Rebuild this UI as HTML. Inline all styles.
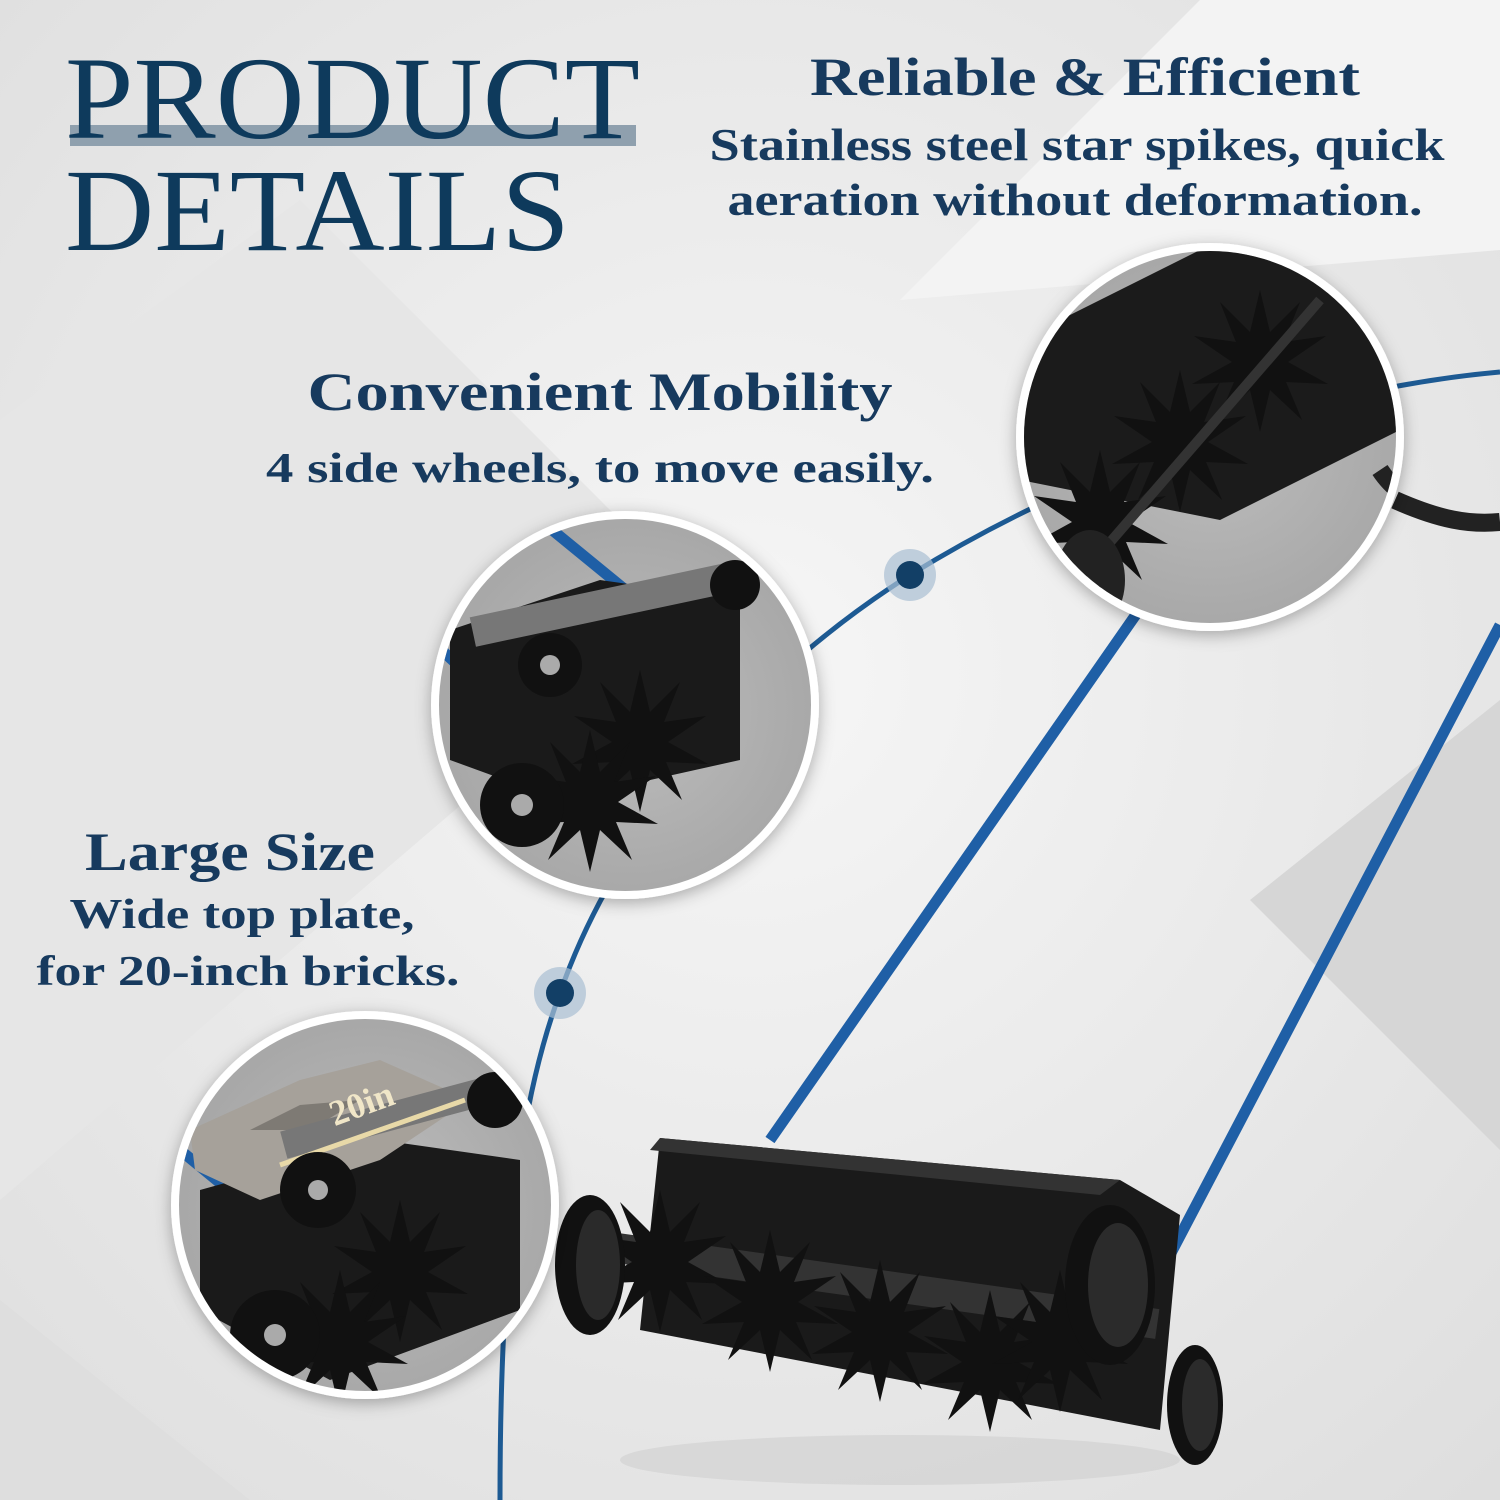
<!DOCTYPE html>
<html><head><meta charset="utf-8"><style>
html,body{margin:0;padding:0;background:#eeeeee}
svg{display:block}
</style></head><body>
<svg width="1500" height="1500" viewBox="0 0 1500 1500" xmlns="http://www.w3.org/2000/svg">
<defs>
<radialGradient id="bg" cx="0.5" cy="0.45" r="0.8">
<stop offset="0" stop-color="#f6f6f6"/><stop offset="1" stop-color="#dcdcdc"/></radialGradient>
<radialGradient id="ph" cx="0.5" cy="0.5" r="0.6">
<stop offset="0" stop-color="#bdbdbd"/><stop offset="1" stop-color="#a2a2a2"/></radialGradient>
<clipPath id="c1"><circle cx="1210" cy="437" r="186"/></clipPath>
<clipPath id="c2"><circle cx="625" cy="705" r="186"/></clipPath>
<clipPath id="c3"><circle cx="365" cy="1205" r="186"/></clipPath>
<filter id="sh" x="-20%" y="-20%" width="140%" height="140%"><feDropShadow dx="0" dy="4" stdDeviation="8" flood-color="#000" flood-opacity="0.3"/></filter>
<g id="star">
<polygon fill="#111" points="0,-70 10,-28 40,-58 24,-18 66,-24 28,2 68,24 26,22 42,60 10,30 0,72 -10,30 -42,60 -26,22 -68,24 -28,2 -66,-24 -24,-18 -40,-58 -10,-28"/>
</g>
</defs>
<rect width="1500" height="1500" fill="url(#bg)"/>
<polygon points="0,420 300,200 700,600 0,1200" fill="#e6e6e6"/>
<polygon points="1250,900 1500,700 1500,1150" fill="#d6d6d6"/>
<polygon points="900,300 1200,0 1500,0 1500,250" fill="#f3f3f3"/>
<polygon points="0,1300 250,1500 0,1500" fill="#dedede"/>

<!-- arc -->
<path d="M1500,372 C1300,390 1080,470 910,575 C760,670 620,820 560,993 C520,1100 500,1250 500,1500" fill="none" stroke="#1d5a93" stroke-width="5"/>
<circle cx="910" cy="575" r="26" fill="#a9bfd3" opacity="0.7"/><circle cx="910" cy="575" r="14" fill="#123f66"/>
<circle cx="560" cy="993" r="26" fill="#a9bfd3" opacity="0.7"/><circle cx="560" cy="993" r="14" fill="#123f66"/>

<!-- handles -->
<line x1="1160" y1="580" x2="770" y2="1140" stroke="#1f5fa6" stroke-width="11"/>
<line x1="1500" y1="625" x2="1115" y2="1360" stroke="#1f5fa6" stroke-width="11"/>
<path d="M1395,500 C1440,520 1470,525 1500,522" stroke="#222" stroke-width="18" fill="none"/>

<!-- aerator -->
<polygon points="660,1138 1120,1180 1180,1215 1160,1430 640,1330" fill="#1a1a1a"/>
<polygon points="660,1138 1120,1180 1100,1195 650,1150" fill="#333"/>
<rect x="600" y="1270" width="560" height="30" fill="#333" transform="rotate(8 880 1285)"/>
<use href="#star" x="660" y="1260"/><use href="#star" x="770" y="1300"/><use href="#star" x="880" y="1330"/>
<use href="#star" x="990" y="1360"/><use href="#star" x="1060" y="1340"/>
<ellipse cx="590" cy="1265" rx="35" ry="70" fill="#111"/><ellipse cx="598" cy="1265" rx="22" ry="55" fill="#2a2a2a"/>
<ellipse cx="1110" cy="1285" rx="45" ry="80" fill="#111"/><ellipse cx="1118" cy="1285" rx="30" ry="62" fill="#2b2b2b"/>
<ellipse cx="1195" cy="1405" rx="28" ry="60" fill="#111"/><ellipse cx="1200" cy="1405" rx="18" ry="46" fill="#2b2b2b"/>
<ellipse cx="900" cy="1460" rx="280" ry="25" fill="#cfcfcf" opacity="0.6"/>

<!-- circle 1 -->
<g filter="url(#sh)"><circle cx="1210" cy="437" r="194" fill="#fff"/></g>
<g clip-path="url(#c1)">
<rect x="1000" y="240" width="420" height="400" fill="url(#ph)"/>
<polygon points="1020,340 1200,250 1420,250 1420,420 1220,520 1020,480" fill="#1b1b1b"/>
<use href="#star" x="1260" y="360"/><use href="#star" x="1180" y="440"/><use href="#star" x="1100" y="520"/>
<line x1="1060" y1="600" x2="1320" y2="300" stroke="#333" stroke-width="10"/>
<ellipse cx="1090" cy="580" rx="35" ry="50" fill="#222"/>
<path d="M1380,470 C1400,500 1420,500 1440,505" stroke="#222" stroke-width="18" fill="none"/>
</g>
<!-- circle 2 -->
<g filter="url(#sh)"><circle cx="625" cy="705" r="194" fill="#fff"/></g>
<g clip-path="url(#c2)">
<rect x="430" y="510" width="400" height="400" fill="url(#ph)"/>
<line x1="420" y1="630" x2="560" y2="760" stroke="#1f5fa6" stroke-width="11"/>
<line x1="540" y1="520" x2="650" y2="610" stroke="#1f5fa6" stroke-width="11"/>
<polygon points="450,630 600,580 740,600 740,760 560,800 450,760" fill="#1a1a1a"/>
<rect x="470" y="590" width="260" height="30" fill="#777" transform="rotate(-12 600 605)"/>
<use href="#star" x="640" y="740"/><use href="#star" x="590" y="800"/>
<circle cx="550" cy="665" r="32" fill="#111"/><circle cx="550" cy="665" r="10" fill="#aaa"/>
<circle cx="522" cy="805" r="42" fill="#111"/><circle cx="522" cy="805" r="11" fill="#aaa"/>
<circle cx="735" cy="585" r="25" fill="#111"/>
</g>
<!-- circle 3 -->
<g filter="url(#sh)"><circle cx="365" cy="1205" r="194" fill="#fff"/></g>
<g clip-path="url(#c3)">
<rect x="170" y="1010" width="400" height="400" fill="url(#ph)"/>
<line x1="180" y1="1150" x2="350" y2="1290" stroke="#1f5fa6" stroke-width="11"/>
<polygon points="200,1190 380,1140 520,1160 520,1310 330,1380 200,1310" fill="#1a1a1a"/>
<use href="#star" x="400" y="1270"/><use href="#star" x="340" y="1340"/>
<polygon points="190,1130 300,1080 380,1060 470,1100 380,1160 260,1200 195,1170" fill="#a6a19a"/>
<polygon points="250,1130 300,1105 360,1100 310,1130" fill="#7e7a74"/>
<rect x="280" y="1100" width="240" height="28" fill="#777" transform="rotate(-15 400 1115)"/>
<line x1="280" y1="1165" x2="465" y2="1100" stroke="#e8d9a8" stroke-width="5"/>
<text x="330" y="1120" font-family="Liberation Serif, serif" font-size="36" font-weight="bold" fill="#f0e6c8" transform="rotate(-20 350 1110)">20in</text>
<circle cx="318" cy="1190" r="38" fill="#111"/><circle cx="318" cy="1190" r="10" fill="#aaa"/>
<circle cx="275" cy="1335" r="45" fill="#111"/><circle cx="275" cy="1335" r="11" fill="#aaa"/>
<circle cx="495" cy="1100" r="28" fill="#111"/>
</g>

<!-- title -->
<rect x="70" y="125" width="566" height="21" fill="#8fa0ae"/>
<g font-family="Liberation Serif, serif" fill="#0e3a5c">
<text x="65" y="138" font-size="118" textLength="575" lengthAdjust="spacingAndGlyphs">PRODUCT</text>
<text x="65" y="250" font-size="118" textLength="505" lengthAdjust="spacingAndGlyphs">DETAILS</text>
</g>
<g font-family="Liberation Serif, serif" font-weight="bold" fill="#173a5e" text-anchor="middle">
<text x="1085" y="95" font-size="54" textLength="550" lengthAdjust="spacingAndGlyphs">Reliable &amp; Efficient</text>
<text x="1077" y="160" font-size="45" textLength="735" lengthAdjust="spacingAndGlyphs">Stainless steel star spikes, quick</text>
<text x="1075" y="215" font-size="45" textLength="695" lengthAdjust="spacingAndGlyphs">aeration without deformation.</text>
<text x="600" y="410" font-size="54" textLength="585" lengthAdjust="spacingAndGlyphs">Convenient Mobility</text>
<text x="600" y="482" font-size="42" textLength="668" lengthAdjust="spacingAndGlyphs">4 side wheels, to move easily.</text>
<text x="230" y="870" font-size="54" textLength="290" lengthAdjust="spacingAndGlyphs">Large Size</text>
<text x="242" y="928" font-size="42" textLength="345" lengthAdjust="spacingAndGlyphs">Wide top plate,</text>
<text x="248" y="985" font-size="42" textLength="423" lengthAdjust="spacingAndGlyphs">for 20-inch bricks.</text>
</g>
</svg>
</body></html>
